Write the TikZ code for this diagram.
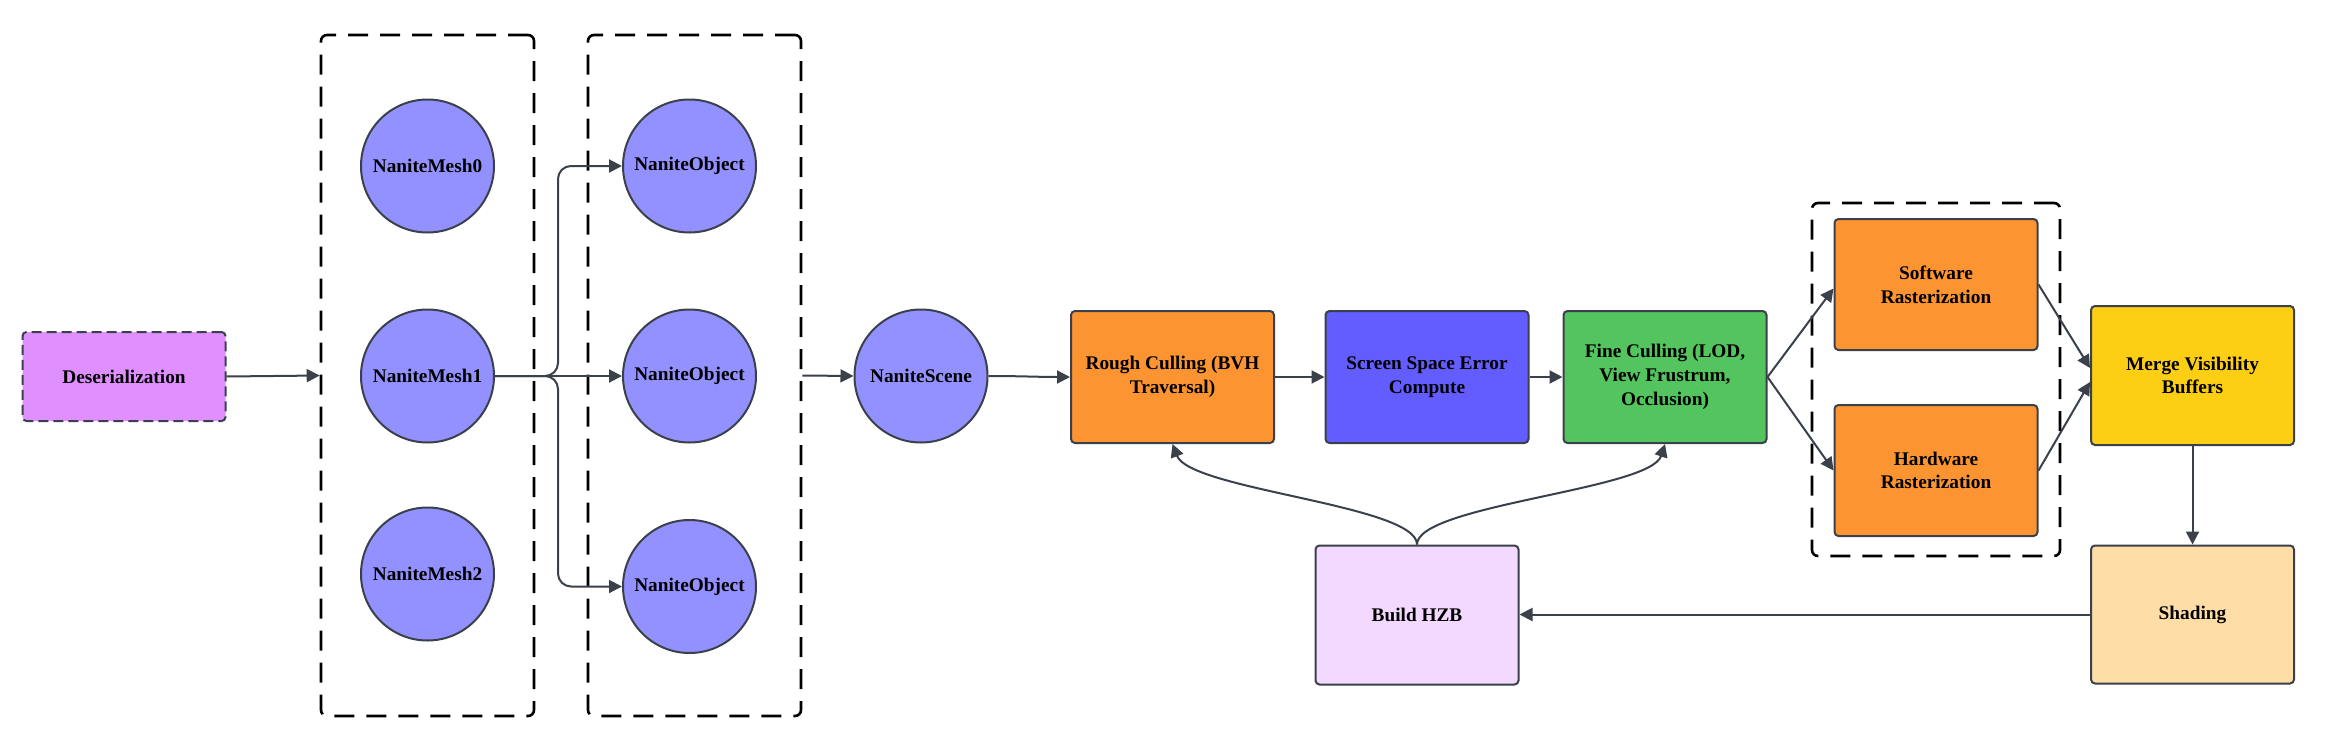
\documentclass[tikz,border=0pt]{standalone}
\usepackage{fontspec}
\setmainfont{Liberation Serif}
\usetikzlibrary{arrows.meta}
\definecolor{lc}{HTML}{3A414A}
\definecolor{cpink}{HTML}{E08FFF}
\definecolor{cpur}{HTML}{9391FF}
\definecolor{corange}{HTML}{FC9432}
\definecolor{cblue}{HTML}{635DFF}
\definecolor{cgreen}{HTML}{54C45E}
\definecolor{cyellow}{HTML}{FCCE14}
\definecolor{cpeach}{HTML}{FFDDA6}
\definecolor{clav}{HTML}{F3D9FF}
\begin{document}
\begin{tikzpicture}[x=1pt,y=-1pt,
  every node/.style={font=\fontsize{19.3}{23.7}\selectfont\bfseries, align=center, text=black},
  box/.style={draw=lc, line width=2pt, rounded corners=4pt, minimum width=203pt, inner sep=0pt},
  circ/.style={circle, draw=lc, line width=2pt, fill=cpur, minimum size=133pt, inner sep=0pt},
  grp/.style={draw=black, line width=2.6pt, dash pattern=on 20pt off 12pt, rounded corners=6pt, inner sep=0pt},
  arr/.style={draw=lc, line width=2pt, -{Triangle[length=13pt,width=13pt]}}]
\useasboundingbox (0,0) rectangle (2347,736);
\fill[white] (0,0) rectangle (2347,736);

% groups
\node[grp, minimum width=213pt, minimum height=681pt] (g1) at (427.5,375.5) {};
\node[grp, minimum width=213pt, minimum height=681pt] (g2) at (694.5,375.5) {};
\node[grp, minimum width=248pt, minimum height=353pt] (g3) at (1936,379.5) {};

% nodes
\node[box, fill=cpink, dash pattern=on 10pt off 5pt, minimum height=89pt] (des) at (124,376.5) {Deserialization};
\node[circ] (m0) at (427.5,166) {NaniteMesh0};
\node[circ] (m1) at (427.5,376) {NaniteMesh1};
\node[circ] (m2) at (427.5,574) {NaniteMesh2};
\node[circ] (o0) at (689.5,166) {NaniteObject};
\node[circ] (o1) at (689.5,376) {NaniteObject};
\node[circ] (o2) at (689.5,586.5) {NaniteObject};
\node[circ] (scene) at (921,376) {NaniteScene};
\node[box, fill=corange, minimum height=132pt] (rough) at (1172.5,377) {Rough Culling (BVH\\Traversal)};
\node[box, fill=cblue, minimum height=132pt] (sse) at (1427,377) {Screen Space Error\\Compute};
\node[box, fill=cgreen, minimum height=132pt] (fine) at (1665,377) {Fine Culling (LOD,\\View Frustrum,\\Occlusion)};
\node[box, fill=clav, minimum height=139pt] (hzb) at (1417,615) {Build HZB};
\node[box, fill=corange, minimum height=131pt] (sw) at (1936,284.5) {Software\\Rasterization};
\node[box, fill=corange, minimum height=131pt] (hw) at (1936,470.5) {Hardware\\Rasterization};
\node[box, fill=cyellow, minimum height=139pt] (merge) at (2192.5,375.5) {Merge Visibility\\Buffers};
\node[box, fill=cpeach, minimum height=138pt] (shade) at (2192.5,614.5) {Shading};

% connectors
\draw[arr] (des.east) -- (g1.west);
\draw[arr] (m1.east) -- (o1.west);
\draw[arr, rounded corners=13pt] (m1.east) -- (558,376) -- (558,166) -- (o0.west);
\draw[arr, rounded corners=13pt] (m1.east) -- (558,376) -- (558,586.5) -- (o2.west);
\draw[arr] (g2.east) -- (scene.west);
\draw[arr] (scene.east) to[out=0,in=180] (rough.west);
\draw[arr] (rough.east) -- (sse.west);
\draw[arr] (sse.east) -- (fine.west);
\draw[arr] (fine.east) -- ([yshift=-4pt]sw.west);
\draw[arr] (fine.east) -- (hw.west);
\draw[arr] (sw.east) -- ([yshift=7.5pt]merge.west);
\draw[arr] (hw.east) -- ([yshift=-6.5pt]merge.west);
\draw[arr] (merge.south) -- (shade.north);
\draw[arr] (shade.west) -- (hzb.east |- shade.west);
\draw[arr] (hzb.north) .. controls (1417,505) and (1190,490) .. (rough.south);
\draw[arr] (hzb.north) .. controls (1417,505) and (1650,490) .. (fine.south);
\end{tikzpicture}
\end{document}
